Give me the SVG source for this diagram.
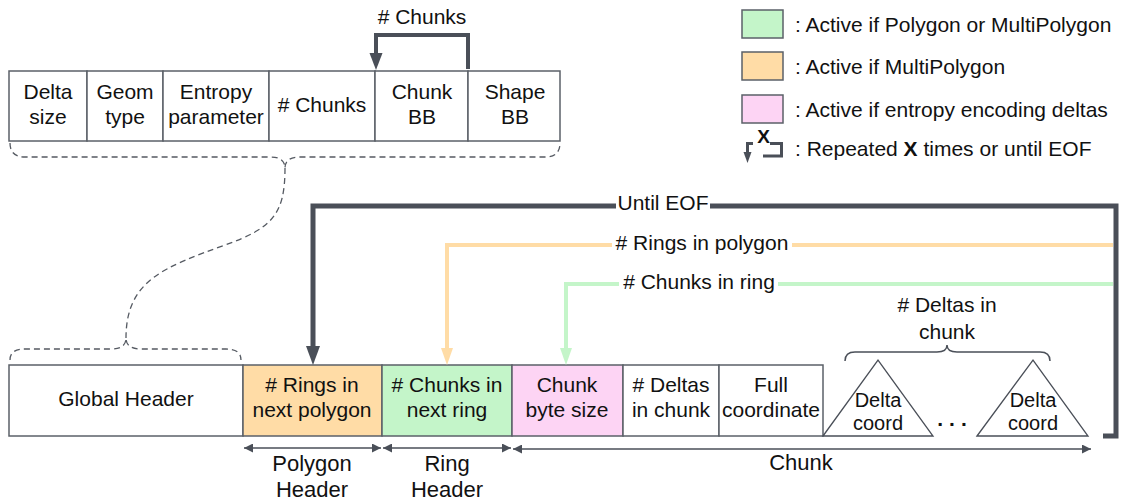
<svg xmlns="http://www.w3.org/2000/svg" width="1126" height="500" viewBox="0 0 1126 500">
<style>
  text { font-family: "Liberation Sans", Arial, sans-serif; font-size: 21px; fill: #111; text-anchor: middle; }
  .cell { stroke: #5b6068; stroke-width: 1.5; }
  .w { fill: #ffffff; }
  .or { fill: #ffdca6; }
  .gr { fill: #c4f5c9; }
  .pk { fill: #fdd4f4; }
  .dash { fill: none; stroke: #555a62; stroke-width: 1.3; stroke-dasharray: 6 4; }
  .thin { fill: none; stroke: #4a4f58; stroke-width: 1.5; }
  .thick { fill: none; stroke: #4a4f58; stroke-width: 5; }
  .orl { fill: none; stroke: #ffdca6; stroke-width: 4; }
  .grl { fill: none; stroke: #c4f5c9; stroke-width: 4; }
  .lbl { text-anchor: start; }
  .big { font-size: 22px; }
</style>
<defs>
  <marker id="ahThin" viewBox="0 0 10 10" refX="10" refY="5" markerWidth="8" markerHeight="6" orient="auto-start-reverse" markerUnits="strokeWidth">
    <path d="M0,0 L10,5 L0,10 z" fill="#4a4f58"/>
  </marker>
</defs>

<!-- Top header table -->
<g id="top-header">
  <g id="cell-delta-size"><rect class="cell w" x="9" y="71" width="78" height="70"/><text x="48" y="99">Delta</text><text x="48" y="124">size</text></g>
  <g id="cell-geom-type"><rect class="cell w" x="87" y="71" width="76" height="70"/><text x="125" y="99">Geom</text><text x="125" y="124">type</text></g>
  <g id="cell-entropy"><rect class="cell w" x="163" y="71" width="106" height="70"/><text x="216" y="99">Entropy</text><text x="216" y="124">parameter</text></g>
  <g id="cell-chunks"><rect class="cell w" x="269" y="71" width="106" height="70"/><text x="322" y="112"># Chunks</text></g>
  <g id="cell-chunk-bb"><rect class="cell w" x="375" y="71" width="93" height="70"/><text x="422" y="99">Chunk</text><text x="422" y="124">BB</text></g>
  <g id="cell-shape-bb"><rect class="cell w" x="468" y="71" width="92" height="70"/><text x="515" y="99">Shape</text><text x="515" y="124">BB</text></g>
</g>

<!-- Legend -->
<g id="legend">
  <g id="legend-green"><rect class="cell gr" x="742" y="10" width="41" height="28"/><text class="lbl" x="795" y="32">: Active if Polygon or MultiPolygon</text></g>
  <g id="legend-orange"><rect class="cell or" x="742" y="52" width="41" height="28"/><text class="lbl" x="795" y="74">: Active if MultiPolygon</text></g>
  <g id="legend-pink"><rect class="cell pk" x="742" y="95" width="41" height="28"/><text class="lbl" x="795" y="117">: Active if entropy encoding deltas</text></g>
  <g id="legend-repeat">
    <path d="M753,143.5 L747.5,143.5 L747.5,153" fill="none" stroke="#4a4f58" stroke-width="3"/>
    <path d="M743.5,152 L751.5,152 L747.5,163 z" fill="#4a4f58"/>
    <path d="M770,143.5 L781.5,143.5 L781.5,156 L763,156" fill="none" stroke="#4a4f58" stroke-width="3"/>
    <text x="763.5" y="143" style="font-weight:bold;font-size:19px">X</text>
    <text class="lbl" x="795" y="156">: Repeated <tspan style="font-weight:bold">X</tspan> times or until EOF</text>
  </g>
</g>

<!-- Bottom row -->
<g id="global-header"><rect class="cell w" x="9" y="365" width="234" height="71"/><text x="126" y="406">Global Header</text></g>
<g id="rings-next-polygon"><rect class="cell or" x="243" y="365" width="139" height="71"/><text x="312" y="392"># Rings in</text><text x="312" y="417">next polygon</text></g>
<g id="chunks-next-ring"><rect class="cell gr" x="382" y="365" width="130" height="71"/><text x="447" y="392"># Chunks in</text><text x="447" y="417">next ring</text></g>
<g id="chunk-byte-size"><rect class="cell pk" x="512" y="365" width="111" height="71"/><text x="567" y="392">Chunk</text><text x="567" y="417">byte size</text></g>
<g id="deltas-in-chunk"><rect class="cell w" x="623" y="365" width="96" height="71"/><text x="671" y="392"># Deltas</text><text x="671" y="417">in chunk</text></g>
<g id="full-coordinate"><rect class="cell w" x="719" y="365" width="104" height="71"/><text x="771" y="392">Full</text><text x="771" y="417">coordinate</text></g>
<g id="delta-coord-1"><path d="M823,436 L878,360 L933,436 z" fill="#fff" stroke="#4a4f58" stroke-width="1.3"/><text x="878" y="407" style="font-size:20px">Delta</text><text x="878" y="430" style="font-size:20px">coord</text></g>
<g id="ellipsis"><text x="955" y="426" style="font-weight:bold;letter-spacing:6px">...</text></g>
<g id="delta-coord-2"><path d="M977,436 L1033,360 L1088,436 z" fill="#fff" stroke="#4a4f58" stroke-width="1.3"/><text x="1033" y="407" style="font-size:20px">Delta</text><text x="1033" y="430" style="font-size:20px">coord</text></g>

<!-- Braces -->
<g id="braces">
  <path class="dash" d="M10,143 Q10,157 25,157 L270,157 Q285,157 285,168 Q285,157 300,157 L545,157 Q560,157 560,143"/>
  <path class="dash" d="M285,168 C285,215 272,228 225,245 C165,267 126,280 126,338"/>
  <path class="dash" d="M10,360 Q10,349 25,349 L111,349 Q126,349 126,338 Q126,349 141,349 L226,349 Q241,349 241,360"/>
  <path class="thin" d="M845,361 Q845,352 855,352 L937,352 Q947,352 947,345 Q947,352 957,352 L1040,352 Q1050,352 1050,361"/>
  <text x="947" y="312"># Deltas in</text>
  <text x="947" y="339">chunk</text>
</g>

<!-- Connectors -->
<g id="connectors">
  <path id="conn-top-chunks" class="thick" d="M468,69 L468,35 L376,35 L376,56" style="stroke-width:4"/>
  <path d="M369.5,53 L382.5,53 L376,70 z" fill="#4a4f58"/>
  <text x="422" y="24"># Chunks</text>

  <path id="conn-until-eof" class="thick" d="M1103,436 L1116,436 L1116,206 L313,206 L313,348"/>
  <path d="M306,346 L320,346 L313,365 z" fill="#4a4f58"/>
  <rect x="616" y="194" width="94" height="22" fill="#fff"/>
  <text x="663" y="210">Until EOF</text>

  <path id="conn-rings" class="orl" d="M1113,245 L447,245 L447,350"/>
  <path d="M441,348 L453,348 L447,365 z" fill="#ffdca6"/>
  <rect x="612" y="232" width="180" height="24" fill="#fff"/>
  <text x="702" y="250"># Rings in polygon</text>

  <path id="conn-chunks" class="grl" d="M1113,284 L566,284 L566,350"/>
  <path d="M560,348 L572,348 L566,365 z" fill="#c4f5c9"/>
  <rect x="619" y="271" width="159" height="24" fill="#fff"/>
  <text x="699" y="289"># Chunks in ring</text>

  <path id="dim-polygon" class="thin" d="M244,448 L381,448" marker-start="url(#ahThin)" marker-end="url(#ahThin)"/>
  <path id="dim-ring" class="thin" d="M383,448 L511,448" marker-start="url(#ahThin)" marker-end="url(#ahThin)"/>
  <path id="dim-chunk" class="thin" d="M513,449 L1091,449" marker-start="url(#ahThin)" marker-end="url(#ahThin)"/>
  <text class="big" x="312" y="471">Polygon</text><text class="big" x="312" y="497">Header</text>
  <text class="big" x="447" y="471">Ring</text><text class="big" x="447" y="497">Header</text>
  <text class="big" x="801" y="470">Chunk</text>
</g>
</svg>
